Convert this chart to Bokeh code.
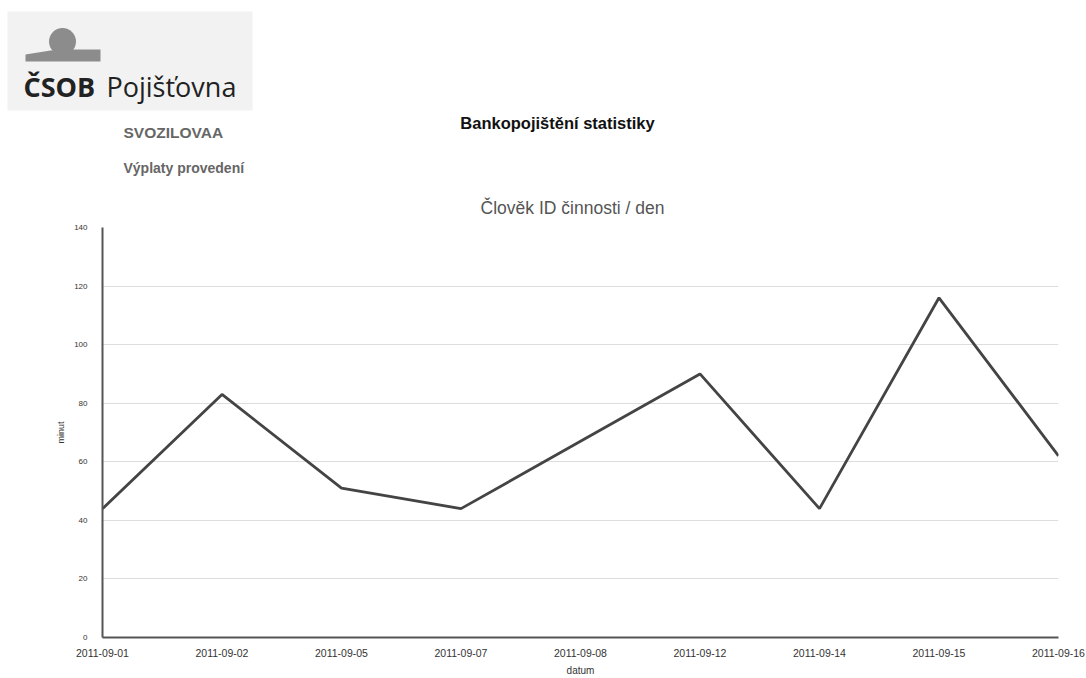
from bokeh.plotting import figure
from bokeh.models import Range1d, FixedTicker, Label, ColumnDataSource
from bokeh.embed import file_html
from bokeh.resources import INLINE

# ---- data ----
dates = ["2011-09-01", "2011-09-02", "2011-09-05", "2011-09-07", "2011-09-08",
         "2011-09-12", "2011-09-14", "2011-09-15", "2011-09-16"]
minutes = [44, 83, 51, 44, 67, 90, 44, 116, 62]
y_ticks = [0, 20, 40, 60, 80, 100, 120, 140]

page_title = "Bankopojištění statistiky"
user_name = "SVOZILOVAA"
section = "Výplaty provedení"
chart_title = "Člověk ID činnosti / den"
x_label = "datum"
y_label = "minut"

W = 1086
HEADER_H = 218
CHART_H = 678 - HEADER_H
FONT = "Liberation Sans"

# ---- header (logo + texts), its own root so it is not frame-aligned with the chart ----
h = figure(width=W, height=HEADER_H, x_range=Range1d(0, W), y_range=Range1d(HEADER_H, 0),
           output_backend="svg", toolbar_location=None, title=None,
           min_border=0, min_border_left=0, min_border_right=0,
           min_border_top=0, min_border_bottom=0)
h.axis.visible = False
h.grid.visible = False
h.outline_line_color = None

h.quad(left=[7], right=[252], top=[11], bottom=[110], fill_color="#f2f2f2", line_color=None)
h.circle(x=[62], y=[41], radius=13.5, fill_color="#8c8c8c", line_color=None)
h.patch(x=[25, 50, 62, 100, 100, 25], y=[54, 50, 49, 49, 61, 61], fill_color="#8c8c8c", line_color=None)
h.add_layout(Label(x=23, y=86, text="ČSOB", text_font="Open Sans", text_font_style="bold",
                   text_font_size="27px", text_color="#222222", text_baseline="alphabetic"))
h.add_layout(Label(x=106, y=86, text="Pojišťovna", text_font="Open Sans",
                   text_font_size="27px", text_color="#222222", text_baseline="alphabetic"))

h.add_layout(Label(x=123, y=132, text=user_name, text_font=FONT, text_font_style="bold",
                   text_font_size="15.5px", text_color="#666666", text_baseline="middle"))
h.add_layout(Label(x=123, y=167, text=section, text_font=FONT, text_font_style="bold",
                   text_font_size="14px", text_color="#666666", text_baseline="middle"))
h.add_layout(Label(x=557, y=122, text=page_title, text_font=FONT, text_font_style="bold",
                   text_font_size="16.5px", text_color="#111111", text_baseline="middle",
                   text_align="center"))
h.add_layout(Label(x=572, y=207, text=chart_title, text_font=FONT,
                   text_font_size="17.5px", text_color="#555555", text_baseline="middle",
                   text_align="center"))

# ---- chart ----
xs = list(range(len(dates)))
src = ColumnDataSource(dict(x=xs, y=minutes))

p = figure(width=W, height=CHART_H, x_range=Range1d(0, len(dates) - 1), y_range=Range1d(0, 140),
           output_backend="svg", toolbar_location=None,
           min_border_left=102, min_border_right=28, min_border_top=9, min_border_bottom=41)
p.outline_line_color = None
p.line("x", "y", source=src, line_color="#444444", line_width=2.8)

p.xaxis.ticker = FixedTicker(ticks=xs)
p.xaxis.major_label_overrides = {i: d for i, d in zip(xs, dates)}
p.yaxis.ticker = FixedTicker(ticks=y_ticks)

for ax in (p.xaxis, p.yaxis):
    ax.axis_line_color = "#555555"
    ax.axis_line_width = 2
    ax.major_tick_line_color = None
    ax.minor_tick_line_color = None
    ax.major_tick_out = 0
    ax.major_tick_in = 0
    ax.minor_tick_out = 0
    ax.minor_tick_in = 0
    ax.major_label_text_font = FONT
    ax.major_label_text_color = "#333333"
    ax.axis_label_text_font = FONT
    ax.axis_label_text_font_style = "normal"
    ax.axis_label_text_color = "#333333"

p.xaxis.major_label_text_font_size = "10.5px"
p.xaxis.axis_label_text_font_size = "10px"
p.xaxis.major_label_standoff = 11
p.xaxis.axis_label_standoff = 5

p.yaxis.major_label_text_font_size = "8px"
p.yaxis.axis_label_text_font_size = "9px"
p.yaxis.major_label_standoff = 15
p.yaxis.axis_label_standoff = 5

p.xaxis.axis_label = x_label
p.yaxis.axis_label = y_label

p.ygrid.ticker = FixedTicker(ticks=y_ticks[1:])
p.ygrid.grid_line_color = "#dddddd"
p.ygrid.grid_line_width = 1
p.xgrid.ticker = FixedTicker(ticks=[xs[-1]])
p.xgrid.grid_line_color = "#dddddd"
p.xgrid.grid_line_width = 1

open("out.html", "w").write(file_html([h, p], INLINE))
